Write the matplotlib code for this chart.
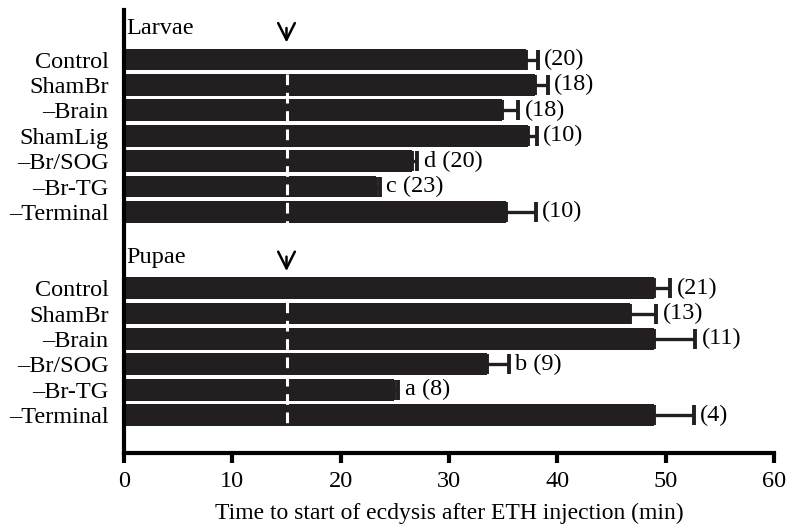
# ETH injection: time to start of ecdysis, larvae vs pupae
import matplotlib
matplotlib.use('Agg')
import matplotlib.pyplot as plt
import numpy as np

# Data

larvae_labels = ['Control', 'ShamBr', '\u2013Brain', 'ShamLig',
                 '\u2013Br/SOG', '\u2013Br-TG', '\u2013Terminal']
larvae_mean = [37.1, 37.95, 34.9, 37.3, 26.6, 23.3, 35.3]
larvae_err = [1.1, 1.15, 1.5, 0.8, 0.45, 0.3, 2.7]
larvae_n = [20, 18, 18, 10, 20, 23, 10]
larvae_sig = ['', '', '', '', 'd', 'c', '']

pupae_labels = ['Control', 'ShamBr', '\u2013Brain',
                '\u2013Br/SOG', '\u2013Br-TG', '\u2013Terminal']
pupae_mean = [48.9, 46.7, 48.9, 33.5, 24.9, 48.9]
pupae_err = [1.5, 2.4, 3.8, 2.0, 0.4, 3.7]
pupae_n = [21, 13, 11, 9, 8, 4]
pupae_sig = ['', '', '', 'b', 'a', '']

eth_time = 15  # arrow / dashed line

xticks = [0, 10, 20, 30, 40, 50, 60]
xlabel = 'Time to start of ecdysis after ETH injection (min)'

# Layout
plt.rcParams['font.family'] = ['Liberation Serif', 'DejaVu Serif']
fs = 17.5
barcol = '#231f20'

fig = plt.figure(figsize=(8.03, 5.29), dpi=100)
ax = fig.add_axes([124/803, 76/529, 650/803, 443/529])

pos_l = np.arange(len(larvae_labels))
pos_p = np.arange(len(pupae_labels)) + len(larvae_labels) + 2

groups = [(pos_l, larvae_mean, larvae_err, larvae_n, larvae_sig, 'Larvae'),
          (pos_p, pupae_mean, pupae_err, pupae_n, pupae_sig, 'Pupae')]

for pos, mean, err, n, sig, name in groups:
    ax.barh(pos, mean, height=0.86, color=barcol, zorder=2)
    ax.errorbar(mean, pos, xerr=[np.zeros(len(err)), err], fmt='none',
                ecolor=barcol, elinewidth=2.4, capsize=7, capthick=2.8,
                zorder=3)
    for p, m, e, k, s in zip(pos, mean, err, n, sig):
        txt = f'{s} ({k})' if s else f'({k})'
        ax.text(m + e + 0.6, p, txt, va='center', ha='left', fontsize=fs)
    # white dashed line at ETH time, across the bars
    ax.plot([eth_time, eth_time], [pos[1] - 0.45, pos[-1] + 0.45],
            color='white', lw=2.2, dashes=(3.5, 2.5), zorder=4)
    # arrow above the group
    ax.annotate('', xy=(eth_time, pos[0] - 0.56), xytext=(eth_time, pos[0] - 1.35),
                arrowprops=dict(arrowstyle='->', lw=1.8, color='black',
                                mutation_scale=30))
    ax.text(0.25, pos[0] - 1.22, name, va='center', ha='left', fontsize=fs)

ax.set_yticks(list(pos_l) + list(pos_p))
ax.set_yticklabels(larvae_labels + pupae_labels)
ax.tick_params(axis='y', length=0, pad=11, labelsize=fs)
ax.set_ylim(15.49, -1.95)

ax.set_xlim(0, 60)
ax.set_xticks(xticks)
ax.tick_params(axis='x', direction='out', length=7, width=3, labelsize=fs, pad=6)
ax.set_xlabel(xlabel, fontsize=17, labelpad=8)

for side in ['top', 'right']:
    ax.spines[side].set_visible(False)
for side in ['left', 'bottom']:
    ax.spines[side].set_linewidth(3)

plt.savefig('out.png', dpi=100)
